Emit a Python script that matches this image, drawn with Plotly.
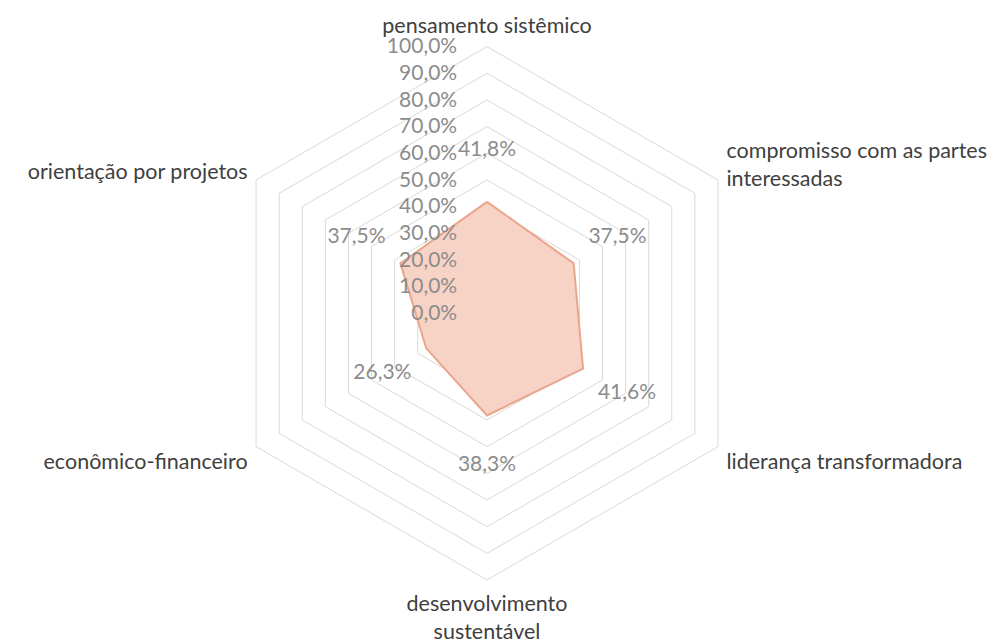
import plotly.graph_objects as go

categories = [
    "pensamento sistêmico",
    "compromisso com as partes<br>interessadas",
    "liderança transformadora",
    "desenvolvimento<br>sustentável",
    "econômico-financeiro",
    "orientação por projetos",
]
values = [41.8, 37.5, 41.6, 38.3, 26.3, 37.5]
value_labels = ["41,8%", "37,5%", "41,6%", "38,3%", "26,3%", "37,5%"]
radial_ticks = [0, 10, 20, 30, 40, 50, 60, 70, 80, 90, 100]
radial_tick_text = ["0,0%", "10,0%", "20,0%", "30,0%", "40,0%", "50,0%",
                    "60,0%", "70,0%", "80,0%", "90,0%", "100,0%"]
label_offset = 19

FONT = "Lato, Open Sans, sans-serif"
DOMAIN = dict(x=[0.2119, 0.7442], y=[0.1104, 0.9400])

fig = go.Figure()
fig.add_trace(go.Scatterpolar(
    r=values + [values[0]],
    theta=categories + [categories[0]],
    mode="lines",
    fill="toself",
    fillcolor="#f7d3c5",
    line=dict(color="#eaa68b", width=2),
    hoverinfo="skip",
    showlegend=False,
    subplot="polar",
))
fig.add_trace(go.Scatterpolar(
    r=[v + label_offset for v in values],
    theta=categories,
    mode="text",
    text=value_labels,
    textfont=dict(family=FONT, size=21, color="#8c8c8c"),
    hoverinfo="skip",
    showlegend=False,
    subplot="polar",
))
# invisible trace so the overlay subplot (radial tick labels on top) is drawn
fig.add_trace(go.Scatterpolar(
    r=[0],
    theta=[categories[0]],
    mode="markers",
    marker=dict(opacity=0),
    hoverinfo="skip",
    showlegend=False,
    subplot="polar2",
))

fig.update_layout(
    width=1002, height=643,
    paper_bgcolor="white", plot_bgcolor="white",
    margin=dict(l=0, r=0, t=0, b=0),
    separators=",.",
    polar=dict(
        domain=DOMAIN,
        bgcolor="white",
        gridshape="linear",
        radialaxis=dict(
            range=[0, 100],
            tickvals=radial_ticks,
            showticklabels=False,
            angle=90,
            showline=False,
            ticks="",
            gridcolor="#d9d9d9",
            gridwidth=1,
            layer="below traces",
        ),
        angularaxis=dict(
            rotation=90,
            direction="clockwise",
            showgrid=False,
            showline=True,
            linecolor="#d9d9d9",
            linewidth=1,
            ticks="outside",
            ticklen=5,
            tickcolor="rgba(0,0,0,0)",
            tickfont=dict(family=FONT, size=21.5, color="#404040"),
            layer="below traces",
        ),
    ),
    polar2=dict(
        domain=DOMAIN,
        bgcolor="rgba(0,0,0,0)",
        gridshape="linear",
        radialaxis=dict(
            range=[0, 100],
            tickvals=radial_ticks,
            ticktext=radial_tick_text,
            angle=90,
            tickangle=90,
            side="counterclockwise",
            showline=False,
            showgrid=False,
            ticks="outside",
            ticklen=22,
            tickcolor="rgba(0,0,0,0)",
            tickfont=dict(family=FONT, size=21, color="#8c8c8c"),
            layer="above traces",
        ),
        angularaxis=dict(
            rotation=90,
            direction="clockwise",
            visible=False,
        ),
    ),
)

fig.write_html("out.html")
